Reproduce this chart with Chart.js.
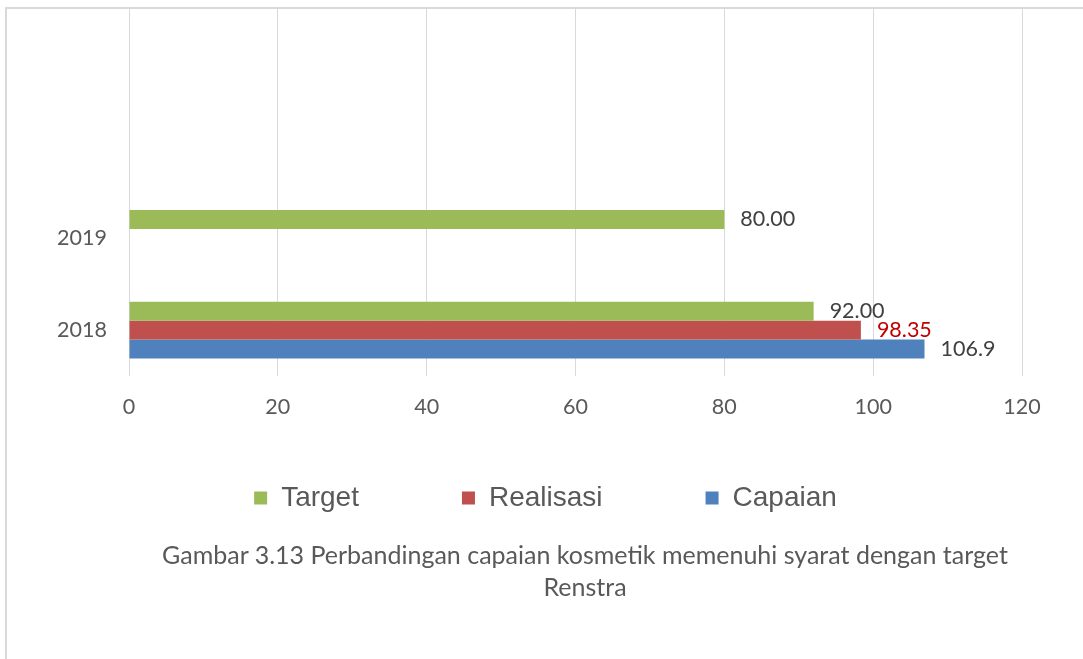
<!DOCTYPE html>
<html>
<head>
<meta charset="utf-8">
<script src="https://cdn.jsdelivr.net/npm/chart.js@4.4.1/dist/chart.umd.min.js"></script>
<style>
  html, body { margin: 0; padding: 0; background: #fff; }
  #wrap { position: relative; width: 1083px; height: 659px; overflow: hidden; }
  #frame { position: absolute; left: 5px; top: 7px; width: 1200px; height: 700px;
           border-top: 2px solid #d9d9d9; border-left: 2px solid #d9d9d9; }
  #chartBox { position: absolute; left: 0; top: 0; width: 1083px; height: 659px; }
  #caption { position: absolute; left: 85px; top: 538px; width: 1000px; text-align: center;
             font-family: Lato, sans-serif; font-size: 25px; line-height: 32px;
             color: #595959; white-space: nowrap; }
</style>
</head>
<body>
<div id="wrap">
  <div id="frame"></div>
  <div id="chartBox"><canvas id="kosmetikChart"></canvas></div>
  <div id="caption">Gambar 3.13 Perbandingan capaian kosmetik memenuhi syarat dengan target<br>Renstra</div>
</div>
<script>
// Data
const years = ['', '', '2019', '2018'];
const targetValues = [null, null, 80, 92];
const realisasiValues = [null, null, null, 98.35];
const capaianValues = [null, null, null, 106.9];
const xTicks = [0, 20, 40, 60, 80, 100, 120];

// Value labels next to each bar
const valueLabels = {
    id: 'valueLabels',
    afterDatasetsDraw(chart) {
        const ctx = chart.ctx;
        ctx.save();
        ctx.font = '21.5px Lato';
        ctx.textAlign = 'left';
        ctx.textBaseline = 'middle';
        chart.data.datasets.forEach((ds, i) => {
            chart.getDatasetMeta(i).data.forEach((bar, j) => {
                const v = ds.data[j];
                if (v == null) return;
                ctx.fillStyle = ds.labelColor;
                ctx.fillText(ds.labelFormat(v), bar.x + 16, bar.y);
            });
        });
        ctx.restore();
    }
};

// Pull the legend up closer to the axis and centre it like the original
const legendShift = {
    id: 'legendShift',
    afterLayout(chart) {
        const lg = chart.legend;
        lg.top -= 39; lg.bottom -= 39;
        lg.left += 14.5; lg.right += 14.5;
    }
};

new Chart(document.getElementById('kosmetikChart'), {
    type: 'bar',
    data: {
        labels: years,
        datasets: [{
            label: 'Target',
            data: targetValues,
            backgroundColor: '#9BBB59',
            labelColor: '#404040',
            labelFormat: v => v.toFixed(2)
        }, {
            label: 'Realisasi',
            data: realisasiValues,
            backgroundColor: '#C0504D',
            labelColor: '#C00000',
            labelFormat: v => v.toFixed(2)
        }, {
            label: 'Capaian',
            data: capaianValues,
            backgroundColor: '#4F81BD',
            labelColor: '#404040',
            labelFormat: v => String(v)
        }]
    },
    options: {
        indexAxis: 'y',
        responsive: true,
        maintainAspectRatio: false,
        animation: false,
        categoryPercentage: 0.62,
        barPercentage: 1.0,
        layout: {
            padding: { top: 9, right: 61, bottom: 98, left: 40 }
        },
        scales: {
            x: {
                min: xTicks[0],
                max: xTicks[xTicks.length - 1],
                ticks: {
                    stepSize: xTicks[1] - xTicks[0],
                    color: '#595959',
                    font: { family: 'Lato', size: 21.5 },
                    padding: 18,
                    maxRotation: 0
                },
                grid: { color: '#d9d9d9', drawTicks: false },
                border: { display: false },
                afterFit: scale => { scale.height = 44; }
            },
            y: {
                ticks: {
                    color: '#595959',
                    font: { family: 'Lato', size: 21.5, lineHeight: 0.8 },
                    padding: 0
                },
                grid: { color: 'transparent', drawOnChartArea: false, drawTicks: true, tickLength: 22 },
                border: { display: false },
                afterFit: scale => { scale.width = 89; }
            }
        },
        plugins: {
            legend: {
                position: 'bottom',
                labels: {
                    boxWidth: 13,
                    boxHeight: 13,
                    padding: 103,
                    color: '#595959',
                    font: { family: 'Liberation Sans', size: 28 }
                }
            },
            tooltip: { enabled: false }
        }
    },
    plugins: [valueLabels, legendShift]
});
</script>
</body>
</html>
